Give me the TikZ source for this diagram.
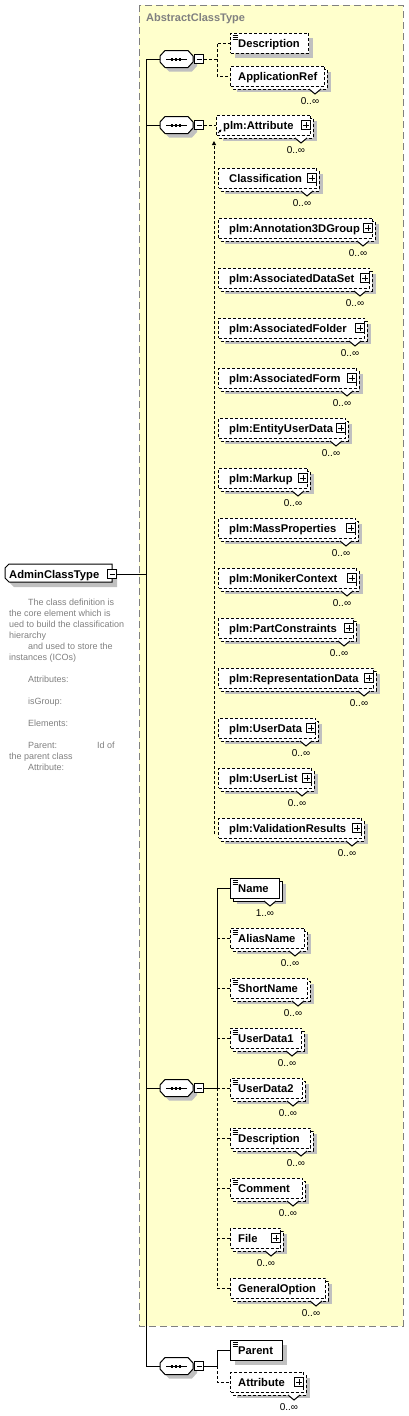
\documentclass[tikz,border=0pt]{standalone}
\usepackage{fontspec}
\setmainfont{Liberation Sans}
\usetikzlibrary{arrows.meta}
\definecolor{yel}{HTML}{FFFFCC}
\definecolor{shd}{HTML}{C0C0C0}
\definecolor{bgray}{HTML}{808080}
\tikzset{
  bline/.style={line width=1pt},
  conn/.style={line width=1pt},
  dconn/.style={line width=1pt, dash pattern=on 3pt off 2pt},
  opt/.style={dash pattern=on 3pt off 2pt},
  req/.style={},
  elfr/.style={draw=black, fill=white, line width=1pt, minimum height=20pt, inner sep=0pt, anchor=west},
  lab/.style={font=\bfseries\fontsize{11.2}{12}\selectfont, anchor=base west, inner sep=0pt},
  mul/.style={font=\fontsize{10}{11}\selectfont, anchor=base, inner sep=0pt},
  sbox/.style={draw=black, fill=white, line width=0.8pt, minimum size=9pt, inner sep=0pt},
  ttlsty/.style={font=\bfseries\fontsize{11}{12}\selectfont, text=bgray, anchor=west, inner sep=0pt},
  descsty/.style={font=\fontsize{9}{11}\selectfont, text=bgray, align=left, inner sep=0pt, anchor=north west},
  grpframe/.style={draw=bgray, fill=yel, line width=1pt, dash pattern=on 7pt off 4pt},
}
% single element box: name x y w label style pad
\newcommand{\single}[7]{%
  \fill[shd] ({#2+5},{#3-10+5}) rectangle ({#2+#4+5},{#3+10+5});
  \node[elfr,#6,minimum width=#4pt] (#1) at (#2,#3) {};
  \node[lab] (#1-t) at ([shift={(#7pt,-4pt)}]#1.west) {#5};
}
% multiple element box: name x y w label style mult pad
\newcommand{\multel}[8]{%
  \fill[shd] ({#2+7},{#3-10+6}) rectangle ({#2+#4+7},{#3+10+6});
  \draw[bline,fill=white,#6] ({#2+3},{#3-10+3}) rectangle ({#2+#4+3},{#3+10+3});
  \filldraw[bline,fill=white] ({#2+#4-15},{#3+13}) -- ({#2+#4-9},{#3+18}) -- ({#2+#4-3},{#3+13});
  \node[elfr,#6,minimum width=#4pt] (#1) at (#2,#3) {};
  \node[lab] (#1-t) at ([shift={(#8pt,-4pt)}]#1.west) {#5};
  \node[mul] (#1-m) at ({#2+#4-14},{#3+28}) {#7};
}
\newcommand{\docicon}[1]{%
  \foreach \k in {3pt,5pt,7pt}
    \draw[line width=0.7pt] ([xshift=2.5pt,yshift=-\k]#1.north west) -- ++(5,0);
}
\newcommand{\plusat}[1]{%
  \node[sbox] (#1-p) at ([xshift=-5pt]#1.east) {};
  \draw[line width=0.8pt] ([xshift=-3pt]#1-p.center) -- ([xshift=3pt]#1-p.center);
  \draw[line width=0.8pt] ([yshift=-3pt]#1-p.center) -- ([yshift=3pt]#1-p.center);
}
\newcommand{\octpath}[1]{(160,{#1-3}) -- (165,{#1-8.5}) -- (188,{#1-8.5}) -- (193,{#1-3}) -- (193,{#1+3}) -- (188,{#1+8.5}) -- (165,{#1+8.5}) -- (160,{#1+3}) -- cycle}
\newcommand{\seqel}[2]{%
  \fill[shd,shift={(4,4)}] \octpath{#2};
  \draw[bline,fill=white] \octpath{#2};
  \draw[bline] (166,#2) -- (187,#2);
  \fill (170.5,{#2-1.5}) rectangle +(2.5,3);
  \fill (174.5,{#2-1.5}) rectangle +(2.5,3);
  \fill (178.5,{#2-1.5}) rectangle +(2.5,3);
  \node[sbox] (#1) at (199,#2) {};
  \draw[line width=0.8pt] (196.5,#2) -- (201.5,#2);
  \coordinate (#1-in) at (160,#2);
}
\begin{document}
\begin{tikzpicture}[x=1pt,y=-1pt]
\useasboundingbox (0,0) rectangle (408,1416);
\draw[grpframe] (139,5) rectangle (403,1326);
\node[ttlsty] (ttl) at (146,19) {AbstractClassType};

% root element
\fill[shd,shift={(5,5)}] (9,564) -- (112,564) -- (112,582) -- (9,582) -- (5,578) -- (5,568) -- cycle;
\draw[bline,fill=white] (9,564) -- (112,564) -- (112,582) -- (9,582) -- (5,578) -- (5,568) -- cycle;
\node[lab] (root) at (9,578) {AdminClassType};
\node[sbox] (root-m) at (112,574) {};
\draw[line width=0.8pt] (109.5,574) -- (114.5,574);

\node[descsty] (doc) at (9,599) {%
\hspace*{19pt}The class definition is\\
the core element which is\\
ued to build the classification\\
hierarchy\\
\hspace*{19pt}and used to store the\\
instances (ICOs)\\[11pt]
\hspace*{19pt}Attributes:\\[11pt]
\hspace*{19pt}isGroup:\\[11pt]
\hspace*{19pt}Elements:\\[11pt]
\makebox[88pt][l]{\hspace*{19pt}Parent:}Id of\\
the parent class\\
\hspace*{19pt}Attribute:};

% sequences
\seqel{s1}{59}
\seqel{s2}{125}
\seqel{s3}{1088}
\seqel{s4}{1366}

% group 1
\single{d1}{230}{43}{78}{Description}{opt}{8} \docicon{d1}
\multel{ar}{230}{76}{94}{ApplicationRef}{opt}{0..∞}{8}

% group 2
\multel{pa}{216}{125}{94}{plm:Attribute}{opt}{0..∞}{7} \plusat{pa}
\draw[line width=0.8pt,-{Triangle[length=2.5pt,width=2.5pt]}] (218,133) -- (221.5,129.5);
\multel{cl}{218}{178}{98}{Classification}{opt}{0..∞}{11} \plusat{cl}
\multel{a3}{218}{228}{154}{plm:Annotation3DGroup}{opt}{0..∞}{11} \plusat{a3}
\multel{ads}{218}{278}{151}{plm:AssociatedDataSet}{opt}{0..∞}{11} \plusat{ads}
\multel{afo}{218}{328}{146}{plm:AssociatedFolder}{opt}{0..∞}{11} \plusat{afo}
\multel{afm}{218}{378}{138}{plm:AssociatedForm}{opt}{0..∞}{11} \plusat{afm}
\multel{eud}{218}{428}{127}{plm:EntityUserData}{opt}{0..∞}{11} \plusat{eud}
\multel{mk}{218}{478}{89}{plm:Markup}{opt}{0..∞}{11} \plusat{mk}
\multel{mp}{218}{528}{137}{plm:MassProperties}{opt}{0..∞}{11} \plusat{mp}
\multel{mc}{218}{578}{138}{plm:MonikerContext}{opt}{0..∞}{11} \plusat{mc}
\multel{pc}{218}{628}{135}{plm:PartConstraints}{opt}{0..∞}{11} \plusat{pc}
\multel{rd}{218}{678}{155}{plm:RepresentationData}{opt}{0..∞}{11} \plusat{rd}
\multel{ud}{218}{728}{97}{plm:UserData}{opt}{0..∞}{11} \plusat{ud}
\multel{ul}{218}{778}{93}{plm:UserList}{opt}{0..∞}{11} \plusat{ul}
\multel{vr}{218}{828}{143}{plm:ValidationResults}{opt}{0..∞}{11} \plusat{vr}

% group 3
\multel{nm}{230}{888}{49}{Name}{req}{1..∞}{8} \docicon{nm}
\multel{al}{230}{938}{74}{AliasName}{opt}{0..∞}{8} \docicon{al}
\multel{sn}{230}{988}{77}{ShortName}{opt}{0..∞}{8} \docicon{sn}
\multel{u1}{230}{1038}{71}{UserData1}{opt}{0..∞}{8} \docicon{u1}
\multel{u2}{230}{1088}{72}{UserData2}{opt}{0..∞}{8} \docicon{u2}
\multel{de}{230}{1138}{80}{Description}{opt}{0..∞}{8} \docicon{de}
\multel{cm}{230}{1188}{72}{Comment}{opt}{0..∞}{8} \docicon{cm}
\multel{fi}{230}{1238}{50}{File}{opt}{0..∞}{8} \plusat{fi}
\multel{go}{230}{1288}{95}{GeneralOption}{opt}{0..∞}{8}

% group 4
\single{pr}{230}{1350}{52}{Parent}{req}{8} \docicon{pr}
\multel{at}{230}{1382}{73}{Attribute}{opt}{0..∞}{8} \plusat{at}

% connectors
\coordinate (tr1) at (146,59);
\coordinate (tr2) at (146,1366);
\coordinate (bus) at (217,0);
\coordinate (subtop) at (214,141);
\coordinate (subbot) at (214,834);
\draw[conn] (tr1) -- (tr2);
\draw[conn] (root-m.east) -- (root-m.east -| tr1);
\draw[conn] (s1-in) -- (s1-in -| tr1);
\draw[conn] (s2-in) -- (s2-in -| tr1);
\draw[conn] (s3-in) -- (s3-in -| tr1);
\draw[conn] (s4-in) -- (s4-in -| tr1);

\draw[dconn] (s1.east) -- (s1.east -| bus) |- (d1.west);
\draw[dconn] (s1.east -| bus) |- (ar.west);

\draw[dconn] (s2.east) -- (pa.west);
\draw[dconn,-{Triangle[length=4pt,width=4pt]}] (subbot) -- (subtop);

\draw[conn] (s3.east) -- (s3.east -| bus) |- (nm.west);
\foreach \e in {al,sn,u1,u2,de,cm,fi,go}
  \draw[dconn] (s3.east -| bus) |- (\e.west);

\draw[conn] (s4.east) -- (s4.east -| bus) |- (pr.west);
\draw[dconn] (s4.east -| bus) |- (at.west);
\end{tikzpicture}
\end{document}
